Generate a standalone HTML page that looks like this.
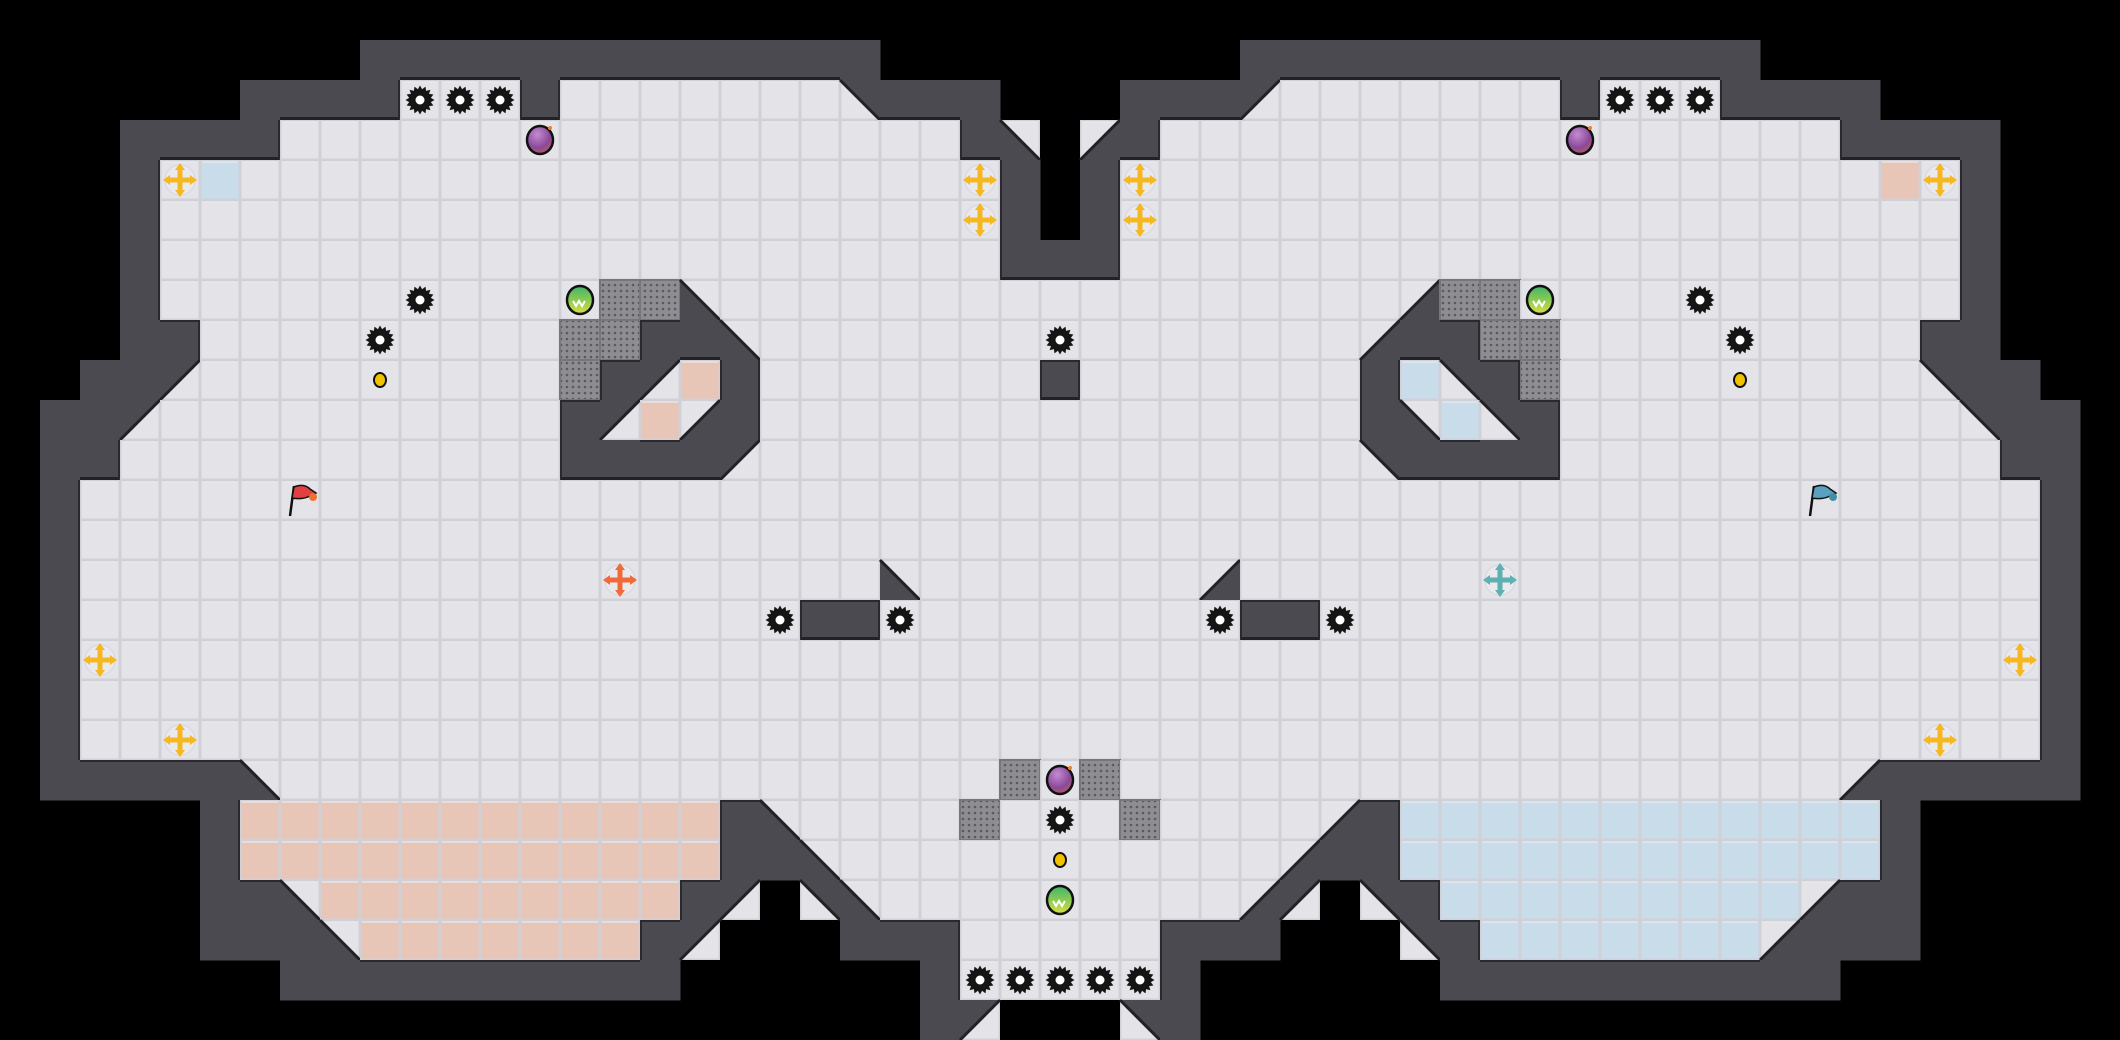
<!DOCTYPE html>
<html><head><meta charset="utf-8"><style>
html,body{margin:0;padding:0;background:#000;}
svg{display:block;}
</style></head><body>
<svg id="m" xmlns="http://www.w3.org/2000/svg" width="2120" height="1040" viewBox="0 0 2120 1040">
<defs>
<pattern id="dots" width="6" height="6" patternUnits="userSpaceOnUse"><rect width="6" height="6" fill="#8e8e92"/><circle cx="3" cy="3" r="1.3" fill="#5a5a5e"/></pattern>
<radialGradient id="bombg" cx="0.4" cy="0.3" r="0.8"><stop offset="0" stop-color="#c58ad0"/><stop offset="0.6" stop-color="#8a4a9a"/><stop offset="1" stop-color="#c0604a"/></radialGradient>
<linearGradient id="ballg" x1="0" y1="0" x2="0" y2="1"><stop offset="0" stop-color="#3fb36a"/><stop offset="1" stop-color="#d8e040"/></linearGradient>
</defs>
<rect width="2120" height="1040" fill="#000"/>
<g id="g"></g>
</svg>
<script>
const L=[
"                           ",
"         #############     ",
"      ####...#.......b###  ",
"   ####.................#c ",
"   #.u...................# ",
"   #.....................# ",
"   #.....................##",
"   #...........ggc.........",
"   ##.........gg##c........",
"  ##a.........g#ap#.......#",
" ##a..........#apd#........",
" ##...........####a........",
" #.........................",
" #.........................",
" #....................c....",
" #..................##.....",
" #.........................",
" #.........................",
" #.........................",
" #####c..................g.",
"     #pppppppppppp#c....g..",
"     #pppppppppppp##c......",
"     ##cppppppppp#a bc.....",
"     ###cppppppp#a   ###...",
"       ##########      #...",
"                       #a  "
];
const S=40;
const mir={a:'b',b:'a',c:'d',d:'c',p:'u',u:'p'};
function tile(r,c){ if(c<=26) return L[r][c]; const ch=L[r][52-c]; return mir[ch]||ch; }
let o='';
const W='#4a4a50', F='#e3e3e8', FS='#d0d0d7';
function floor(x,y,fill){ o+=`<rect x="${x+0.75}" y="${y+0.75}" width="${S-1.5}" height="${S-1.5}" fill="${fill}" stroke="${FS}" stroke-width="1.5"/>`; o+=`<line x1="${x+2}" y1="${y+2}" x2="${x+S-2}" y2="${y+2}" stroke="#f0f0f4" stroke-width="1"/>`;}
for(let r=0;r<26;r++){for(let c=0;c<53;c++){
 const ch=tile(r,c); const x=c*S,y=r*S;
 if(ch===' ') continue;
 if(ch==='.') floor(x,y,F);
 else if(ch==='p') floor(x,y,'#e8c6b7');
 else if(ch==='u') floor(x,y,'#c8dcea');
 else if(ch==='g'){ o+=`<rect x="${x}" y="${y}" width="${S}" height="${S}" fill="url(#dots)" stroke="#77777b" stroke-width="2"/>`; }
 else if(ch==='#'){ o+=`<rect x="${x}" y="${y}" width="${S+0.5}" height="${S+0.5}" fill="${W}"/>`; }
 else {
  floor(x,y,F);
  let p,l;
  if(ch==='a'){p=[[x,y],[x+S,y],[x,y+S]];l=[[x+S,y],[x,y+S]];}
  if(ch==='b'){p=[[x,y],[x+S,y],[x+S,y+S]];l=[[x,y],[x+S,y+S]];}
  if(ch==='c'){p=[[x,y],[x,y+S],[x+S,y+S]];l=[[x,y],[x+S,y+S]];}
  if(ch==='d'){p=[[x+S,y],[x+S,y+S],[x,y+S]];l=[[x+S,y],[x,y+S]];}
  o+=`<polygon points="${p.map(q=>q.join(',')).join(' ')}" fill="${W}"/>`;
  o+=`<line x1="${l[0][0]}" y1="${l[0][1]}" x2="${l[1][0]}" y2="${l[1][1]}" stroke="#222226" stroke-width="3"/>`;
 }
}}
// wall/floor edge outlines
for(let r=0;r<26;r++){for(let c=0;c<53;c++){
 if(tile(r,c)!=='#') continue; const x=c*S,y=r*S;
 const fl=ch=>ch&&('.pug'.includes(ch));
 if(r<25&&fl(tile(r+1,c))) o+=`<rect x="${x}" y="${y+S-3}" width="${S}" height="3" fill="#222226"/>`;
 if(r>0&&fl(tile(r-1,c))) o+=`<rect x="${x}" y="${y}" width="${S}" height="2" fill="#2a2a2e"/>`;
 if(c<52&&fl(tile(r,c+1))) o+=`<rect x="${x+S-2}" y="${y}" width="2" height="${S}" fill="#2a2a2e"/>`;
 if(c>0&&fl(tile(r,c-1))) o+=`<rect x="${x}" y="${y}" width="2" height="${S}" fill="#2a2a2e"/>`;
}}
function cx(c){return c*S+S/2;} 
function spike(c,r){const X=cx(c),Y=cx(r);let pts=[];for(let i=0;i<32;i++){const a=i*Math.PI/16;const rr=i%2?11:14.5;pts.push((X+rr*Math.cos(a)).toFixed(1)+','+(Y+rr*Math.sin(a)).toFixed(1));}
 o+=`<polygon points="${pts.join(' ')}" fill="#151515"/><circle cx="${X}" cy="${Y}" r="4.5" fill="#fff"/>`;}
function boost(c,r,col){const X=cx(c),Y=cx(r);
 o+=`<circle cx="${X}" cy="${Y}" r="15" fill="#e9e9ee" stroke="#d6d6dc"/>`;
 o+=`<rect x="${X-11}" y="${Y-2.5}" width="22" height="5" fill="${col}"/><rect x="${X-2.5}" y="${Y-11}" width="5" height="22" fill="${col}"/>`;
 o+=`<polygon points="${X},${Y-17} ${X-5},${Y-10} ${X+5},${Y-10}" fill="${col}"/><polygon points="${X},${Y+17} ${X-5},${Y+10} ${X+5},${Y+10}" fill="${col}"/>`;
 o+=`<polygon points="${X-17},${Y} ${X-10},${Y-5} ${X-10},${Y+5}" fill="${col}"/><polygon points="${X+17},${Y} ${X+10},${Y-5} ${X+10},${Y+5}" fill="${col}"/>`;}
function bomb(c,r){const X=cx(c),Y=cx(r);o+=`<ellipse cx="${X}" cy="${Y}" rx="13" ry="14" fill="url(#bombg)" stroke="#111" stroke-width="2.5"/><circle cx="${X+10}" cy="${Y-12}" r="2" fill="#f08020"/>`;}
function ball(c,r){const X=cx(c),Y=cx(r);o+=`<ellipse cx="${X}" cy="${Y}" rx="13" ry="14" fill="url(#ballg)" stroke="#111" stroke-width="2.5"/><path d="M${X-7},${Y+1} l3,5 l3,-5 l3,5 l3,-5" stroke="#fff" stroke-width="2" fill="none"/>`;}
function dot(c,r){const X=cx(c),Y=cx(r);o+=`<ellipse cx="${X}" cy="${Y}" rx="6" ry="7" fill="#f2c200" stroke="#111" stroke-width="2"/>`;}
function flag(c,r,col,col2){const X=cx(c),Y=cx(r);o+=`<line x1="${X-10}" y1="${Y+16}" x2="${X-6}" y2="${Y-14}" stroke="#111" stroke-width="2.5"/><path d="M${X-6},${Y-13} q10,-4 16,2 l6,4 l-6,3 q-8,4 -18,2 z" fill="${col}" stroke="#111" stroke-width="1.5"/><circle cx="${X+13}" cy="${Y-3}" r="4" fill="${col2}"/>`;}
const sym=[[10,2],[11,2],[12,2],[10,7],[9,8],[19,15],[22,15]];
sym.forEach(([c,r])=>{spike(c,r);spike(52-c,r);});
[[26,8],[26,20],[24,24],[25,24],[26,24],[27,24],[28,24]].forEach(([c,r])=>spike(c,r));
[[4,4],[24,4],[24,5],[2,16],[4,18]].forEach(([c,r])=>{boost(c,r,'#f5b820');boost(52-c,r,'#f5b820');});
boost(15,14,'#f06a3a');boost(37,14,'#5fb0b0');
bomb(13,3);bomb(39,3);bomb(26,19);
ball(14,7);ball(38,7);ball(26,22);
dot(9,9);dot(43,9);dot(26,21);
flag(7,12,'#e04040','#f07030');flag(45,12,'#5aa0c0','#4090a0');
document.getElementById('g').innerHTML=o;
</script>
</body></html>
